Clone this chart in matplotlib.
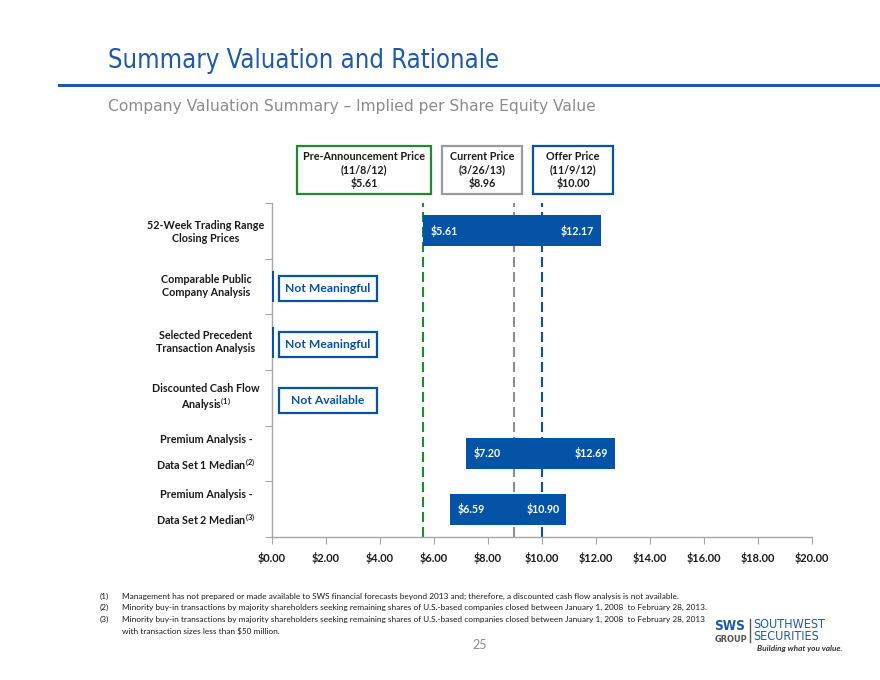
import matplotlib
matplotlib.use("Agg")
import matplotlib.pyplot as plt
from matplotlib.patches import Rectangle
from matplotlib.lines import Line2D

# ---------------- data ----------------
categories = [
    "52-Week Trading Range\nClosing Prices",
    "Comparable Public\nCompany Analysis",
    "Selected Precedent\nTransaction Analysis",
    "Discounted Cash Flow\nAnalysis$^{(1)}$",
    "Premium Analysis -\nData Set 1 Median$^{(2)}$",
    "Premium Analysis -\nData Set 2 Median$^{(3)}$",
]
low_values = [5.61, None, None, None, 7.20, 6.59]
high_values = [12.17, None, None, None, 12.69, 10.90]
status_text = [None, "Not Meaningful", "Not Meaningful", "Not Available", None, None]
ref_names = ["Pre-Announcement Price\n(11/8/12)\n$5.61",
             "Current Price\n(3/26/13)\n$8.96",
             "Offer Price\n(11/9/12)\n$10.00"]
ref_values = [5.61, 8.96, 10.00]
x_ticks = [0, 2, 4, 6, 8, 10, 12, 14, 16, 18, 20]
x_tick_labels = ["$%.2f" % t for t in x_ticks]
footnotes = [
    ("(1)", "Management has not prepared or made available to SWS financial forecasts beyond 2013 and; therefore, a discounted cash flow analysis is not available."),
    ("(2)", "Minority buy-in transactions by majority shareholders seeking remaining shares of U.S.-based companies closed between January 1, 2008  to February 28, 2013."),
    ("(3)", "Minority buy-in transactions by majority shareholders seeking remaining shares of U.S.-based companies closed between January 1, 2008  to February 28, 2013\nwith transaction sizes less than $50 million."),
]

# ---------------- fonts ----------------
BODY = 'Lato'
plt.rcParams['font.family'] = [BODY, 'DejaVu Sans']
plt.rcParams['mathtext.fontset'] = 'custom'
plt.rcParams['mathtext.rm'] = BODY + ':bold'
plt.rcParams['mathtext.bf'] = BODY + ':bold'
plt.rcParams['mathtext.default'] = 'rm'

BLUE = "#0553A6"
TITLE_BLUE = "#1F5AA8"
GREEN = "#1E8C2E"
AXGRAY = "#A6A6A6"
BOOST = 1.08   # Lato is wider than the original narrow font; trade a little width for height

W, H = 880, 680
fig = plt.figure(figsize=(8.8, 6.8), dpi=100)
fig.patch.set_facecolor("white")
renderer = fig.canvas.get_renderer()


def fx(px):
    return px / W


def fy(py):
    return 1 - py / H


def size_for(text, width_px, base=10, **kw):
    """font size so that text renders width_px wide"""
    t = fig.text(0, 0, text, fontsize=base, **kw)
    w = t.get_window_extent(renderer).width
    t.remove()
    return base * width_px / w


# Title, rule and subtitle
title_kw = dict(family=['DejaVu Sans'], fontstretch='condensed')
fs = size_for("Summary Valuation and Rationale", 392, **title_kw)
fig.text(fx(108), fy(61), "Summary Valuation and Rationale", color=TITLE_BLUE,
         fontsize=fs, va='center', ha='left', **title_kw)
fig.add_artist(Line2D([fx(59), fx(880)], [fy(85), fy(85)], color=TITLE_BLUE, lw=2.2))
sub_kw = dict(family=['DejaVu Sans'])
fs = size_for("Company Valuation Summary \u2013 Implied per Share Equity Value", 487, **sub_kw)
fig.text(fx(108), fy(107), "Company Valuation Summary \u2013 Implied per Share Equity Value",
         color="#8C8C8C", fontsize=fs, va='center', ha='left', **sub_kw)

# ---------------- axes ----------------
ax = fig.add_axes([fx(272), fy(537), fx(812) - fx(272), fy(203) - fy(537)])
n = len(categories)
ax.set_xlim(0, 20)
ax.set_ylim(n - 0.5, -0.5)
for s in ['top', 'right']:
    ax.spines[s].set_visible(False)
for s in ['left', 'bottom']:
    ax.spines[s].set_color(AXGRAY)
    ax.spines[s].set_linewidth(1.0)
tick_fs = size_for("$0.00", 26, fontweight='bold') * BOOST
ax.set_xticks(x_ticks)
ax.set_xticklabels(x_tick_labels, fontsize=tick_fs, fontweight='bold', color='#1a1a1a')
ax.tick_params(axis='x', direction='out', length=5, color=AXGRAY, pad=6)
ax.set_yticks([i - 0.5 for i in range(n + 1)])
ax.set_yticklabels([])
ax.tick_params(axis='y', direction='out', length=5, color=AXGRAY)

# reference lines
dash_colors = [GREEN, "#8F8F8F", BLUE]
for v, c in zip(ref_values, dash_colors):
    ax.axvline(v, color=c, lw=1.5, ls=(0, (4.8, 2.4)), zorder=1)

# bars
bar_h = 0.56
bar_fs = size_for("$5.61", 25, fontweight='bold') * BOOST
for i, (lo, hi) in enumerate(zip(low_values, high_values)):
    if lo is None:
        continue
    ax.barh(i, hi - lo, left=lo, height=bar_h, color=BLUE, zorder=3)
    ax.text(lo + 0.28, i, "$%.2f" % lo, color='white', fontsize=bar_fs, fontweight='bold',
            va='center', ha='left', zorder=4)
    ax.text(hi - 0.25, i, "$%.2f" % hi, color='white', fontsize=bar_fs, fontweight='bold',
            va='center', ha='right', zorder=4)

# status boxes
nm_fs = size_for("Not Meaningful", 79, fontweight='bold') * BOOST
for i, t in enumerate(status_text):
    if t is None:
        continue
    if t == "Not Meaningful":
        ax.barh(i, 0.06, left=0, height=bar_h, color=BLUE, zorder=3)
    ax.add_patch(Rectangle((0.26, i + 0.04 - 0.225), 3.63, 0.45, facecolor='white',
                           edgecolor=BLUE, lw=1.6, zorder=4, clip_on=False))
    ax.text(0.26 + 3.63 / 2, i + 0.04, t, color=BLUE, fontsize=nm_fs, fontweight='bold',
            ha='center', va='center', zorder=5)

# category labels (centered around x ~ 207 px)
cat_fs = size_for("52-Week Trading Range", 108, fontweight='bold') * BOOST
label_y = [232, 286, 342, 398, 453, 508]
for i, c in enumerate(categories):
    ls = 1.9 if i >= 4 else 1.2
    fig.text(fx(206), fy(label_y[i]), c, ha='center', va='center',
             fontsize=cat_fs, fontweight='bold', color='#1a1a1a', multialignment='center',
             linespacing=ls)

# reference price boxes at top
box_fs = size_for("Pre-Announcement Price", 112, fontweight='bold') * BOOST
boxes = [(297, 431, GREEN), (442, 522, "#9A9A9A"), (533, 613, BLUE)]
for (x0, x1, col), txt in zip(boxes, ref_names):
    fig.add_artist(Rectangle((fx(x0), fy(194)), fx(x1) - fx(x0), fy(146) - fy(194),
                             transform=fig.transFigure, facecolor='white', edgecolor=col, lw=1.6))
    fig.text(fx((x0 + x1) / 2), fy(170), txt, ha='center', va='center', fontsize=box_fs,
             fontweight='bold', color='#1a1a1a', linespacing=1.2)

# footnotes
foot_fs = size_for(footnotes[0][1], 550)
fy0 = 596
row = 0
for num, txt in footnotes:
    fig.text(fx(100), fy(fy0 + 11.7 * row), num, fontsize=foot_fs, color='#1a1a1a', va='center')
    for ln in txt.split("\n"):
        fig.text(fx(122), fy(fy0 + 11.7 * row), ln, fontsize=foot_fs, color='#1a1a1a', va='center')
        row += 1

# page number
fig.text(fx(480), fy(645), "25", fontsize=9, color='#8C8C8C', ha='center', va='center')

# logo
cdb = dict(family=['DejaVu Sans'], fontstretch='condensed', fontweight='bold')
fs = size_for("SWS", 31, **cdb)
fig.text(fx(714), fy(626), "SWS", fontsize=fs, color=TITLE_BLUE,
         ha='left', va='center', **cdb)
dv = dict(family=['DejaVu Sans'])
fs = size_for("GROUP", 33, fontweight='bold', **dv)
fig.text(fx(715), fy(639), "GROUP", fontsize=fs, fontweight='bold', color='#555555',
         ha='left', va='center', **dv)
fig.add_artist(Line2D([fx(749.5), fx(749.5)], [fy(619), fy(642)], color='#555555', lw=1.0))
cd = dict(family=['DejaVu Sans'], fontstretch='condensed')
fs = size_for("SOUTHWEST", 72, **cd)
fig.text(fx(753), fy(624.5), "SOUTHWEST", fontsize=fs, color=TITLE_BLUE,
         ha='left', va='center', **cd)
fig.text(fx(753), fy(636.5), "SECURITIES", fontsize=fs, color=TITLE_BLUE,
         ha='left', va='center', **cd)
fs = size_for("Building what you value.", 85, style='italic', fontweight='bold')
fig.text(fx(842), fy(648), "Building what you value.", fontsize=fs, style='italic',
         fontweight='bold', color='#333333', ha='right', va='center')

fig.savefig("out.png", dpi=100, facecolor='white')
